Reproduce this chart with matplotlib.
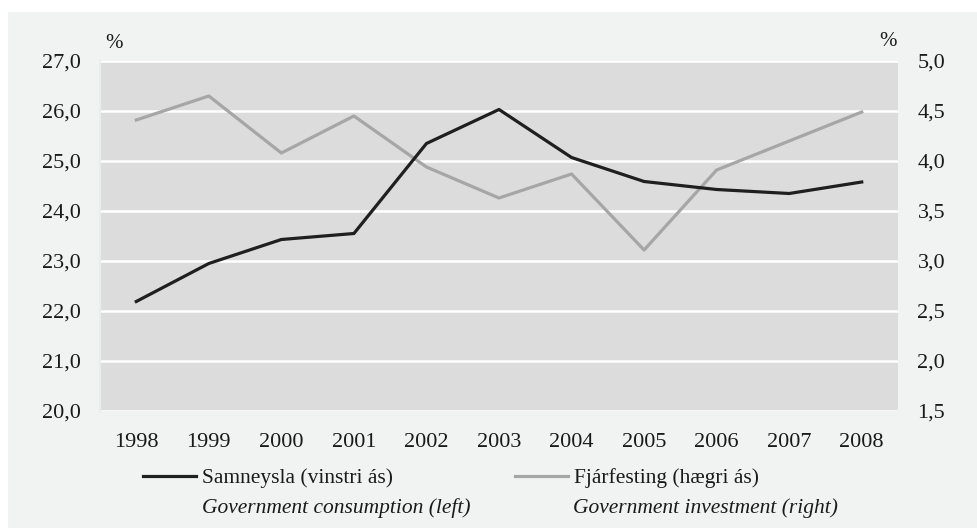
import matplotlib
matplotlib.use("Agg")
import matplotlib.pyplot as plt
from matplotlib.patches import Rectangle
from matplotlib.lines import Line2D
import numpy as np

plt.rcParams['font.family'] = ['Liberation Serif', 'DejaVu Serif']

years = ['1998', '1999', '2000', '2001', '2002', '2003', '2004', '2005', '2006', '2007', '2008']
# samneysla, vinstri ás (%)
consumption = [22.19, 22.95, 23.43, 23.55, 25.35, 26.03, 25.07, 24.59, 24.43, 24.35, 24.58]
# fjárfesting, hægri ás (%)
investment = [4.41, 4.65, 4.08, 4.45, 3.94, 3.63, 3.87, 3.11, 3.91, 4.20, 4.49]

left_ticks = [20, 21, 22, 23, 24, 25, 26, 27]
right_ticks = [1.5, 2.0, 2.5, 3.0, 3.5, 4.0, 4.5, 5.0]

labels_is = ['Samneysla (vinstri ás)', 'Fjárfesting (hægri ás)']
labels_en = ['Government consumption (left)', 'Government investment (right)']

panel = '#f1f2f2'
plotbg = '#dcdcdc'
dark = '#1f1f1f'
light = '#a6a6a6'
txt = '#1a1a1a'
W, H = 978, 528

fig = plt.figure(figsize=(W / 100, H / 100), dpi=100)
fig.patch.set_facecolor('white')
fig.patches.append(Rectangle((8 / W, 0), 1 - 8 / W, 1 - 12 / H, transform=fig.transFigure,
                             facecolor=panel, edgecolor='none', zorder=-5))

ax = fig.add_axes([100 / W, 117 / H, 798 / W, 350 / H])
ax2 = ax.twinx()
ax2.set_zorder(1)
ax.set_zorder(2)
ax2.patch.set_visible(True)
ax2.patch.set_facecolor(plotbg)
ax.patch.set_visible(False)

x = np.arange(len(years))
ax.plot(x, consumption, color=dark, lw=2.3, zorder=4)
ax2.plot(x, investment, color=light, lw=2.3, zorder=3)

ax.set_xlim(-0.5, len(years) - 0.5)
ax.set_ylim(20, 27)
ax.set_yticks(left_ticks)
ax.set_yticklabels([f'{v:.1f}'.replace('.', ',') for v in left_ticks])
ax.set_xticks(x)
ax.set_xticklabels(years)
ax2.set_ylim(1.5, 5.0)
ax2.set_yticks(right_ticks)
ax2.set_yticklabels([f'{v:.1f}'.replace('.', ',') for v in right_ticks])

# gridlines on the back axes so the investment line sits on top of them
for v in right_ticks:
    ax2.axhline(v, color='white', lw=1.8, zorder=1)

ax.tick_params(length=0, labelsize=16, colors=txt)
ax.tick_params(axis='y', pad=14)
ax.tick_params(axis='x', pad=16)
ax2.tick_params(length=0, labelsize=16, colors=txt, pad=14)
for a in (ax, ax2):
    for s in a.spines.values():
        s.set_visible(False)
ax.spines['left'].set_visible(True)
ax.spines['left'].set_color('#ececec')
ax.spines['left'].set_linewidth(1.5)

fig.text(114 / W, 1 - 43 / H, '%', fontsize=15, ha='center', va='center', color=txt)
fig.text(888 / W, 1 - 42 / H, '%', fontsize=15, ha='center', va='center', color=txt)

entries = [(dark, 143), (light, 515)]
for (col, hx), lab in zip(entries, labels_is):
    fig.legend([Line2D([], [], color=col, lw=2.3)], [lab],
               loc='center left', bbox_to_anchor=(hx / W, 1 - 478 / H), frameon=False,
               fontsize=15.5, handlelength=2.45, handletextpad=0.3,
               borderaxespad=0, borderpad=0, labelcolor=txt)
for tx, lab in zip([202, 573], labels_en):
    fig.text(tx / W, 1 - 508 / H, lab, fontsize=15.5, style='italic', ha='left', va='center',
             color=txt)

fig.savefig('out.png', dpi=100, facecolor=fig.get_facecolor())
